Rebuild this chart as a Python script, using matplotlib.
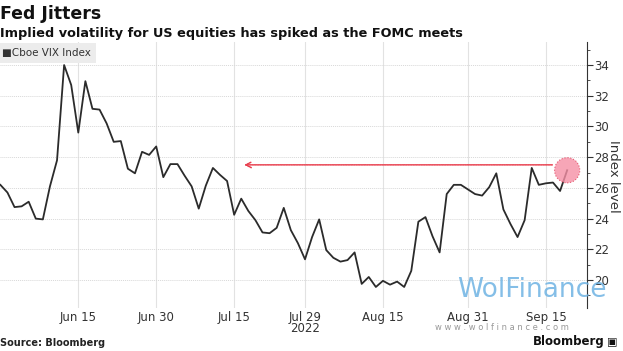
import matplotlib
matplotlib.use('Agg')
import matplotlib.pyplot as plt
import matplotlib.transforms as mtransforms
from matplotlib.ticker import MultipleLocator
import pandas as pd

# weekdays, holidays kept (Bloomberg style axis)
dates = pd.bdate_range('2022-05-31', '2022-09-20')
vix = [26.2,
       25.7, 24.75, 24.8, 25.1, 24.0, 23.95, 26.1, 27.8, 34.0, 32.7, 29.6, 32.95,
       31.15, 31.1, 30.2, 29.0, 29.05, 27.25, 26.95, 28.35, 28.15, 28.7,
       26.7, 27.55, 27.55, 26.8, 26.1, 24.65, 26.15, 27.3, 26.85, 26.45, 24.25,
       25.3, 24.5, 23.9, 23.1, 23.05, 23.4, 24.7, 23.25, 22.4, 21.35,
       22.8, 23.95, 21.95, 21.45, 21.2, 21.3, 21.8, 19.75, 20.2, 19.55, 19.95,
       19.7, 19.9, 19.55, 20.6, 23.8, 24.1, 22.85, 21.8, 25.6, 26.2, 26.2, 25.9,
       25.6, 25.5, 26.05, 26.95, 24.6, 23.65, 22.8, 23.9, 27.3, 26.2, 26.3,
       26.35, 25.8, 27.15]
tick_dates = ['2022-06-15', '2022-06-30', '2022-07-15', '2022-07-29',
              '2022-08-15', '2022-08-31', '2022-09-15']
tick_labels = ['Jun 15', 'Jun 30', 'Jul 15', 'Jul 29', 'Aug 15', 'Aug 31', 'Sep 15']
arrow_level = 27.5
arrow_end = '2022-07-18'

narrow = ['Liberation Sans Narrow', 'DejaVu Sans']
x = list(range(len(dates)))
tick_pos = [dates.get_loc(pd.Timestamp(d)) for d in tick_dates]

fig = plt.figure(figsize=(6.23, 3.51), dpi=100)
ax = fig.add_axes([0.0, 0.1225, 0.9422, 0.7578])

ax.plot(x, vix, color='#2b2b2b', lw=1.3, zorder=3)

ax.set_xlim(-0.05, 82.8)
ax.set_ylim(18.18, 35.5)
ax.set_xticks(tick_pos)
ax.set_xticklabels(tick_labels, family=narrow, fontsize=8.5, color='#333333')
ax.tick_params(axis='x', length=0, pad=2)

ax.yaxis.tick_right()
ax.yaxis.set_major_locator(MultipleLocator(2))
ax.yaxis.set_minor_locator(MultipleLocator(1))
ax.tick_params(axis='y', which='major', length=4, width=0.8, color='#333333',
               labelsize=8.5, labelcolor='#333333', pad=1, direction='out')
ax.tick_params(axis='y', which='minor', length=2, width=0.6, color='#333333')
for lab in ax.get_yticklabels():
    lab.set_family(narrow)
fig.text(614 / 623, 1 - 176 / 351, 'Index level', rotation=270, ha='center',
         va='center', fontsize=9.5, family=narrow, color='#333333')

for s in ['top', 'left', 'bottom']:
    ax.spines[s].set_visible(False)
ax.spines['right'].set_color('#333333')
ax.spines['right'].set_linewidth(0.8)

ax.grid(axis='y', color='#d8d8d8', lw=0.7, ls=(0, (1, 1)))
ax.grid(axis='x', color='#e2e2e2', lw=0.8)
ax.set_axisbelow(True)

# year under Jul 29
trans = mtransforms.blended_transform_factory(ax.transData, fig.transFigure)
ax.text(dates.get_loc(pd.Timestamp('2022-07-29')), 1 - 329 / 351, '2022',
        transform=trans, ha='center', va='center', fontsize=8.5,
        family=narrow, color='#333333')

# highlight circle and dotted arrow
ax.scatter([x[-1]], [vix[-1]], s=330, color='#f590a5', alpha=0.8,
           edgecolor='#e0405a', linewidth=0.8, linestyle=':', zorder=4)
ax.annotate('', xy=(dates.get_loc(pd.Timestamp(arrow_end)), arrow_level),
            xytext=(x[-1] - 1.7, arrow_level),
            arrowprops=dict(arrowstyle='->', color='#e8404f', lw=1.1,
                            linestyle=(0, (1, 0.7)), mutation_scale=10),
            zorder=4)

# legend box
fig.text(0.004, 1 - 53 / 351, '\u25a0Cboe VIX Index', ha='left', va='center',
         fontsize=7.5, family=narrow, color='#333333',
         bbox=dict(boxstyle='square,pad=0.45', fc='#ececec', ec='none'))

# titles
fig.text(0.0, 1 - 14 / 351, 'Fed Jitters', ha='left', va='center',
         fontsize=12.5, fontweight='bold', color='#111111')
fig.text(0.0, 1 - 33 / 351, 'Implied volatility for US equities has spiked as the FOMC meets',
         ha='left', va='center', fontsize=9.3, fontweight='bold', color='#111111')

# footer
fig.text(0.0, 1 - 343 / 351, 'Source: Bloomberg', ha='left', va='center',
         fontsize=7, fontweight='bold', color='#222222')
fig.text(605 / 623, 1 - 342 / 351, 'Bloomberg', ha='right', va='center',
         fontsize=8.5, fontweight='bold', color='#111111')
fig.text(612 / 623, 1 - 342 / 351, '\u25a3', ha='center', va='center',
         fontsize=8, color='#111111', family='DejaVu Sans')

# watermark
fig.text(457 / 623, 1 - 290 / 351, 'WolFinance', ha='left', va='center',
         fontsize=19, color='#6fb3e3', alpha=0.85, family='DejaVu Sans')
fig.text(435 / 623, 1 - 327 / 351, 'w w w . w o l f i n a n c e . c o m', ha='left',
         va='center', fontsize=6, color='#999999')

fig.savefig('out.png', dpi=100)
